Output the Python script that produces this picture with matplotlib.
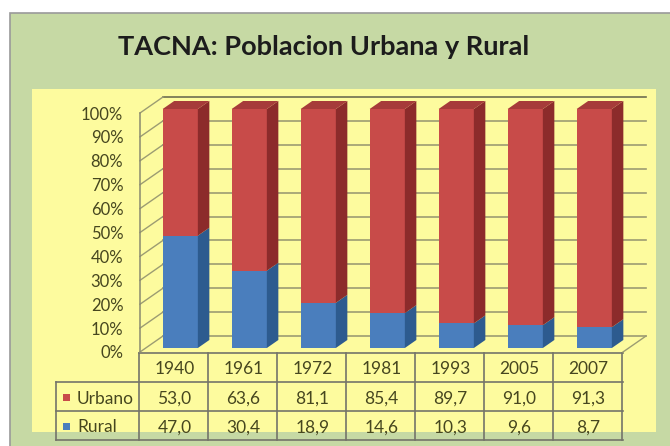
import matplotlib
matplotlib.use("Agg")
import matplotlib.pyplot as plt
from matplotlib.patches import Rectangle, Polygon

years = ["1940", "1961", "1972", "1981", "1993", "2005", "2007"]
urbano = [53.0, 63.6, 81.1, 85.4, 89.7, 91.0, 91.3]
rural = [47.0, 30.4, 18.9, 14.6, 10.3, 9.6, 8.7]
series_names = ["Urbano", "Rural"]
title = "TACNA: Poblacion Urbana y Rural"
yticks = list(range(0, 101, 10))

FONT = ["Lato", "DejaVu Sans"]
TXT = "#46461f"
W, H = 670, 446

fig = plt.figure(figsize=(6.7, 4.46), dpi=100)
fig.patch.set_facecolor("white")

# background axes in pixel coords
bg = fig.add_axes([0, 0, 1, 1])
bg.set_xlim(0, W)
bg.set_ylim(H, 0)
bg.axis("off")
bg.add_patch(Rectangle((10, 13), 680, 460, facecolor="#c6d9a4", edgecolor="#9a9a9a", lw=1.2))
bg.add_patch(Rectangle((32, 89), 624, 343, facecolor="#fdfb9e", edgecolor="none"))
bg.text(324, 47, title, ha="center", va="center", fontsize=19.5, fontweight="bold",
        family=FONT, color="#1c1c1c")

# geometry
X0, PXC = 140, 69.0          # pixel x of category -0.5, px per category
Y0, PYP = 352, 2.39          # pixel y of 0 %, px per percent
DXP, DYP = 23, 16            # depth offset in px
DX, DY = DXP / PXC, DYP / PYP
n = len(years)
ax_w = n * PXC + DXP
ax_h = 100 * PYP + DYP
ax = fig.add_axes([X0 / W, (H - Y0) / H, ax_w / W, ax_h / H])
ax.set_xlim(-0.5, -0.5 + ax_w / PXC)
ax.set_ylim(0, ax_h / PYP)
ax.patch.set_alpha(0)
for s in ax.spines.values():
    s.set_visible(False)
ax.set_xticks([])
ax.set_yticks(yticks)
ax.set_yticklabels([f"{t}%" for t in yticks], family=FONT, fontsize=12, color=TXT)
ax.tick_params(axis="y", length=0, pad=12)

GRID = "#9c9c72"
# back wall gridlines
for t in yticks:
    ax.plot([-0.5 + DX, n - 0.5 + DX], [t + DY, t + DY], color=GRID if t < 100 else "#6e6e50",
            lw=1.2, zorder=1, clip_on=False)
    # side wall diagonals
    ax.plot([-0.5, -0.5 + DX], [t, t + DY], color=GRID, lw=1.0, zorder=1, clip_on=False)
# left front axis line
ax.plot([-0.5, -0.5], [0, 100], color="#8a8a70", lw=1.1, zorder=1, clip_on=False)
# floor right edge
ax.plot([n - 0.5, n - 0.5 + DX], [0, DY], color=GRID, lw=1.0, zorder=1, clip_on=False)

# 3D stacked bars (100 %)
bw = 0.51
z0, z1 = 0.25, 0.75
cols = {
    "Rural": ("#4a7ebd", "#2d5b8f", "#3d6ca7"),
    "Urbano": ("#c84b49", "#8c2b2b", "#a63b3a"),
}
xs = list(range(n))
for i in xs:
    tot = urbano[i] + rural[i]
    r = rural[i] / tot * 100
    segs = [("Rural", 0, r), ("Urbano", r, 100)]
    fx = i - bw / 2 + z0 * DX
    fy = z0 * DY
    ddx, ddy = (z1 - z0) * DX, (z1 - z0) * DY
    for name, b0, b1 in segs:
        front, side, top = cols[name]
        ax.bar(fx, b1 - b0, bottom=b0 + fy, width=bw, align="edge", color=front,
               edgecolor="none", zorder=3)
        xr = fx + bw
        ax.add_patch(Polygon([(xr, b0 + fy), (xr + ddx, b0 + fy + ddy),
                              (xr + ddx, b1 + fy + ddy), (xr, b1 + fy)],
                             closed=True, facecolor=side, edgecolor="none", zorder=3,
                             clip_on=False))
        if b1 >= 100:
            ax.add_patch(Polygon([(fx, b1 + fy), (xr, b1 + fy), (xr + ddx, b1 + fy + ddy),
                                  (fx + ddx, b1 + fy + ddy)],
                                 closed=True, facecolor=top, edgecolor="none", zorder=3,
                                 clip_on=False))

# data table
LC = "#74746a"
TL = 56
rows_y = [353, 382, 411, 440]
xr_end = X0 + n * PXC
col_x = [X0 - 1 + k * PXC for k in range(n + 1)]
bg.plot([X0 - 1, xr_end], [rows_y[0]] * 2, color=LC, lw=1.2)
for yy in rows_y[1:]:
    bg.plot([TL, xr_end], [yy, yy], color=LC, lw=1.2)
bg.plot([TL, TL], [rows_y[1], rows_y[3]], color=LC, lw=1.2)
for cx in col_x:
    bg.plot([cx, cx], [rows_y[0], rows_y[3]], color=LC, lw=1.2)

def fmt(v):
    return f"{v:.1f}".replace(".", ",")

TFS = 12.5
for k, yr in enumerate(years):
    cx = X0 + (k + 0.5) * PXC
    bg.text(cx, (rows_y[0] + rows_y[1]) / 2 + 2, yr, ha="center", va="center",
            family=FONT, fontsize=TFS, color=TXT)
    bg.text(cx, (rows_y[1] + rows_y[2]) / 2 + 2, fmt(urbano[k]), ha="center", va="center",
            family=FONT, fontsize=TFS, color=TXT)
    bg.text(cx, (rows_y[2] + rows_y[3]) / 2 + 2, fmt(rural[k]), ha="center", va="center",
            family=FONT, fontsize=TFS, color=TXT)

for j, name in enumerate(series_names):
    cy = (rows_y[1 + j] + rows_y[2 + j]) / 2 + 1
    bg.add_patch(Rectangle((63, cy - 3.5), 7, 7, facecolor=cols[name][0], edgecolor="none"))
    bg.text(77, cy + 1, name, ha="left", va="center", family=FONT, fontsize=TFS, color=TXT)

fig.savefig("out.png", dpi=100)
